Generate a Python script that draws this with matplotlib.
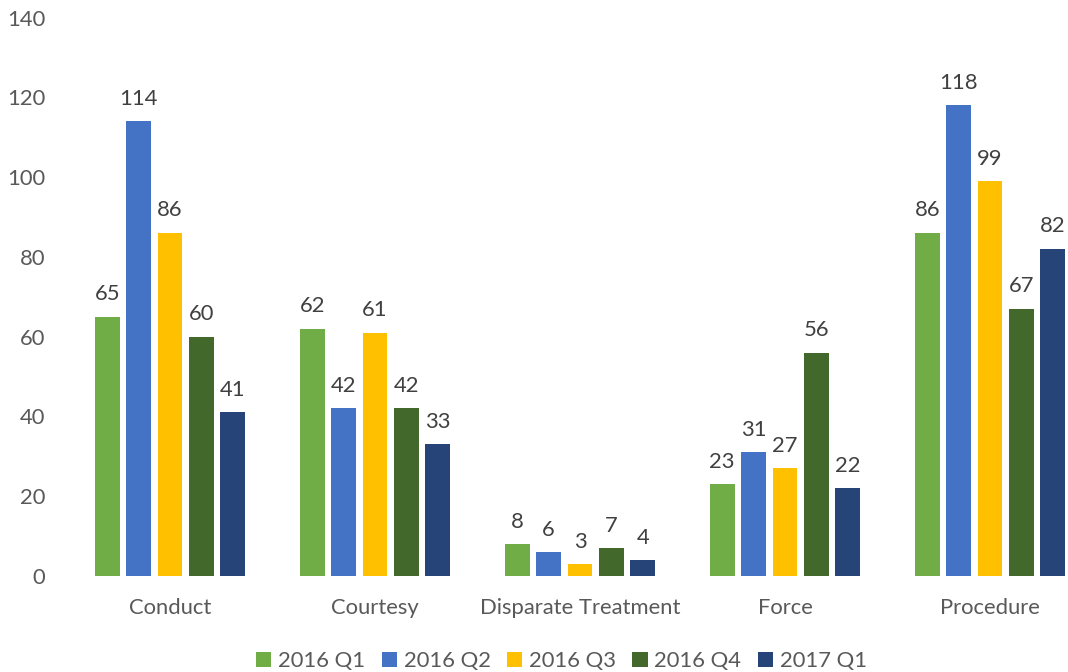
import matplotlib
matplotlib.use("Agg")
import matplotlib.pyplot as plt
import numpy as np

categories = ["Conduct", "Courtesy", "Disparate Treatment", "Force", "Procedure"]
series_names = ["2016 Q1", "2016 Q2", "2016 Q3", "2016 Q4", "2017 Q1"]
q1_2016 = [65, 62, 8, 23, 86]
q2_2016 = [114, 42, 6, 31, 118]
q3_2016 = [86, 61, 3, 27, 99]
q4_2016 = [60, 42, 7, 56, 67]
q1_2017 = [41, 33, 4, 22, 82]
yticks = [0, 20, 40, 60, 80, 100, 120, 140]

series = [q1_2016, q2_2016, q3_2016, q4_2016, q1_2017]
colors = ["#70AD47", "#4472C4", "#FFC000", "#43682B", "#264478"]

plt.rcParams['font.family'] = ['Lato', 'DejaVu Sans']
FS = 15.8

fig = plt.figure(figsize=(10.68, 6.72), dpi=100)
ax = fig.add_axes([67.5/1068, 96/672, 1025/1068, 558.4/672])

x = np.arange(len(categories))
step = 0.1532
width = 0.1205
handles = []
for i, (vals, c, name) in enumerate(zip(series, colors, series_names)):
    off = (i - 2) * step
    b = ax.bar(x + off, vals, width=width, color=c, label=name, zorder=2)
    handles.append(b)
    for xi, v in zip(x + off, vals):
        ax.annotate(str(v), (xi, v), xytext=(0, 9), textcoords='offset points',
                    ha='center', va='bottom', fontsize=FS, color='#404040')

ax.set_xlim(-0.5, 4.5)
ax.set_ylim(0, 140)
ax.set_yticks(yticks)
ax.set_yticklabels([str(t) for t in yticks])
ax.set_xticks(x)
ax.set_xticklabels(categories)
for s in ax.spines.values():
    s.set_visible(False)
ax.tick_params(axis='y', length=0, pad=16, labelsize=FS, labelcolor='#595959')
ax.tick_params(axis='x', length=0, pad=16, labelsize=FS, labelcolor='#595959')

fig.legend(handles=handles, labels=series_names, loc='center',
           bbox_to_anchor=(561.5/1068, 11/672), ncol=5, frameon=False,
           fontsize=FS, labelcolor='#595959', handlelength=0.7, handleheight=0.7,
           handletextpad=0.3, columnspacing=0.75)

fig.savefig("out.png", dpi=100)
